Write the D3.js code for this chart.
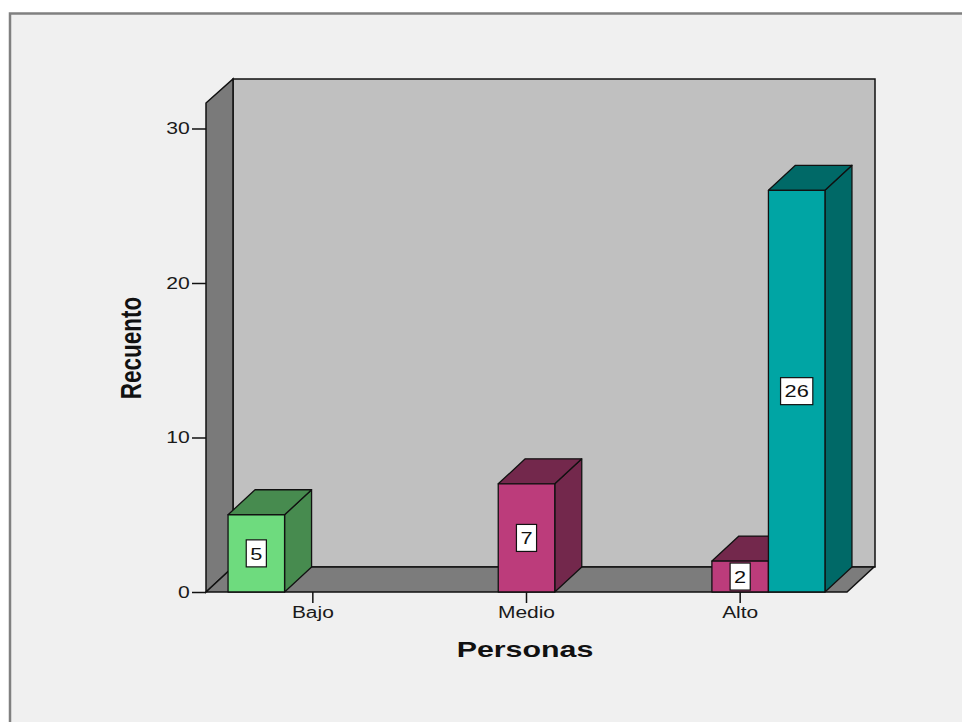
<!DOCTYPE html>
<html>
<head>
<meta charset="utf-8">
<script src="https://cdn.jsdelivr.net/npm/d3@7"></script>
<style>
  html, body { margin: 0; padding: 0; background: #ffffff; }
  svg { display: block; }
  text { font-family: "Liberation Sans", Arial, sans-serif; }
</style>
</head>
<body>
<svg id="chart" width="962" height="722"></svg>
<script>
// Categories on the x axis and the three clustered series (zero bars are not drawn)
const categories = ["Bajo", "Medio", "Alto"];
const seriesKeys = ["s1", "s2", "s3"];
const seriesS1 = [5, 0, 0];
const seriesS2 = [0, 7, 2];
const seriesS3 = [0, 0, 26];
const yTicks = [0, 10, 20, 30];
const yMax = 31.65;

const seriesValues = { s1: seriesS1, s2: seriesS2, s3: seriesS3 };
const faceColor = { s1: "#6edb7e", s2: "#bc3c7b", s3: "#00a5a4" };
const darkColor = { s1: "#478b4f", s2: "#73284c", s3: "#006967" };

const SX = 1.35;           // horizontal text stretch
const DX = 27, DY = 25;    // 3D depth offset

const svg = d3.select("#chart");

// Outer frame
svg.append("rect").attr("x", 10).attr("y", 13.5).attr("width", 980).attr("height", 740)
  .attr("fill", "#f0f0f0").attr("stroke", "#808080").attr("stroke-width", 2.5);

const x0 = 206, x1 = 847, yBase = 592;
const x = d3.scaleBand().domain(categories).range([x0, x1]).paddingInner(0).paddingOuter(0);
const xs = d3.scaleBand().domain(seriesKeys).range([0, x.bandwidth()]).paddingInner(0).paddingOuter(0.39);
const y = d3.scaleLinear().domain([0, yMax]).range([yBase, 103]);

const yTop = y(yMax);
const pts = a => a.map(p => p.join(",")).join(" ");

// Back wall
svg.append("polygon")
  .attr("points", pts([[x0 + DX, yTop - DY + 1], [x1 + DX + 1, yTop - DY + 1], [x1 + DX + 1, yBase - DY], [x0 + DX, yBase - DY]]))
  .attr("fill", "#c0c0c0").attr("stroke", "#111").attr("stroke-width", 1.5);
// Left wall
svg.append("polygon")
  .attr("points", pts([[x0, yTop], [x0 + DX, yTop - DY + 1], [x0 + DX, yBase - DY], [x0, yBase]]))
  .attr("fill", "#7a7a7a").attr("stroke", "#111").attr("stroke-width", 1.5);
// Floor
svg.append("polygon")
  .attr("points", pts([[x0, yBase], [x1, yBase], [x1 + DX, yBase - DY], [x0 + DX, yBase - DY]]))
  .attr("fill", "#7c7c7c").attr("stroke", "#111").attr("stroke-width", 1.5);

// Bars, drawn left to right so nearer faces overlap correctly
const bars = [];
categories.forEach((c, i) => {
  seriesKeys.forEach(k => {
    const v = seriesValues[k][i];
    if (v > 0) bars.push({ c, k, v });
  });
});

const gBars = svg.append("g");
bars.forEach(b => {
  const bx0 = x(b.c) + xs(b.k);
  const bx1 = bx0 + xs.bandwidth();
  const yt = y(b.v);
  const g = gBars.append("g").attr("stroke", "#111").attr("stroke-width", 1.3).attr("stroke-linejoin", "round");
  g.append("polygon")
    .attr("points", pts([[bx1, yt], [bx1 + DX, yt - DY], [bx1 + DX, yBase - DY], [bx1, yBase]]))
    .attr("fill", darkColor[b.k]);
  g.append("polygon")
    .attr("points", pts([[bx0, yt], [bx0 + DX, yt - DY], [bx1 + DX, yt - DY], [bx1, yt]]))
    .attr("fill", darkColor[b.k]);
  g.append("rect").attr("x", bx0).attr("y", yt).attr("width", bx1 - bx0).attr("height", yBase - yt)
    .attr("fill", faceColor[b.k]);

  // Value label in a white box
  const cx = (bx0 + bx1) / 2, cy = (yt + yBase) / 2;
  const lab = svg.append("g").attr("transform", `translate(${cx},${cy})`);
  const t = lab.append("text").text(b.v)
    .attr("text-anchor", "middle").attr("dy", "0.37em")
    .attr("font-size", 17).attr("fill", "#111")
    .attr("transform", `scale(${SX * 0.95},1)`);
  const w = t.node().getComputedTextLength() * SX * 0.95 + 8;
  lab.insert("rect", "text").attr("x", -w / 2).attr("y", -13.5).attr("width", w).attr("height", 27)
    .attr("fill", "#ffffff").attr("stroke", "#111").attr("stroke-width", 1.2);
});

// Y axis
const yAxis = svg.append("g").attr("transform", `translate(${x0},0)`)
  .call(d3.axisLeft(y).tickValues(yTicks).tickSize(14).tickSizeOuter(0).tickPadding(3));
yAxis.select(".domain").remove();
yAxis.selectAll(".tick line").attr("stroke", "#111").attr("stroke-width", 1.5);
yAxis.selectAll(".tick text")
  .attr("font-size", 16.5).attr("fill", "#1a1a1a")
  .attr("font-family", "Liberation Sans, Arial, sans-serif")
  .attr("x", -17 / SX).attr("transform", `scale(${SX * 0.95},1)`);

// X axis
const xAxis = svg.append("g").attr("transform", `translate(0,${yBase})`)
  .call(d3.axisBottom(x).tickSize(11).tickSizeOuter(0).tickPadding(4));
xAxis.select(".domain").remove();
xAxis.selectAll(".tick line").attr("stroke", "#111").attr("stroke-width", 1.5);
xAxis.selectAll(".tick text")
  .attr("font-size", 16).attr("fill", "#1a1a1a")
  .attr("font-family", "Liberation Sans, Arial, sans-serif")
  .attr("transform", `scale(${SX * 0.97},1)`);

// Axis titles
svg.append("text").text("Personas")
  .attr("text-anchor", "middle").attr("font-size", 22.5).attr("font-weight", "bold").attr("fill", "#111")
  .attr("transform", `translate(525,657) scale(${SX},1)`);
svg.append("text").text("Recuento")
  .attr("text-anchor", "middle").attr("font-size", 22.5).attr("font-weight", "bold").attr("fill", "#111")
  .attr("transform", `translate(141,348) scale(${SX},1) rotate(-90)`);
</script>
</body>
</html>
